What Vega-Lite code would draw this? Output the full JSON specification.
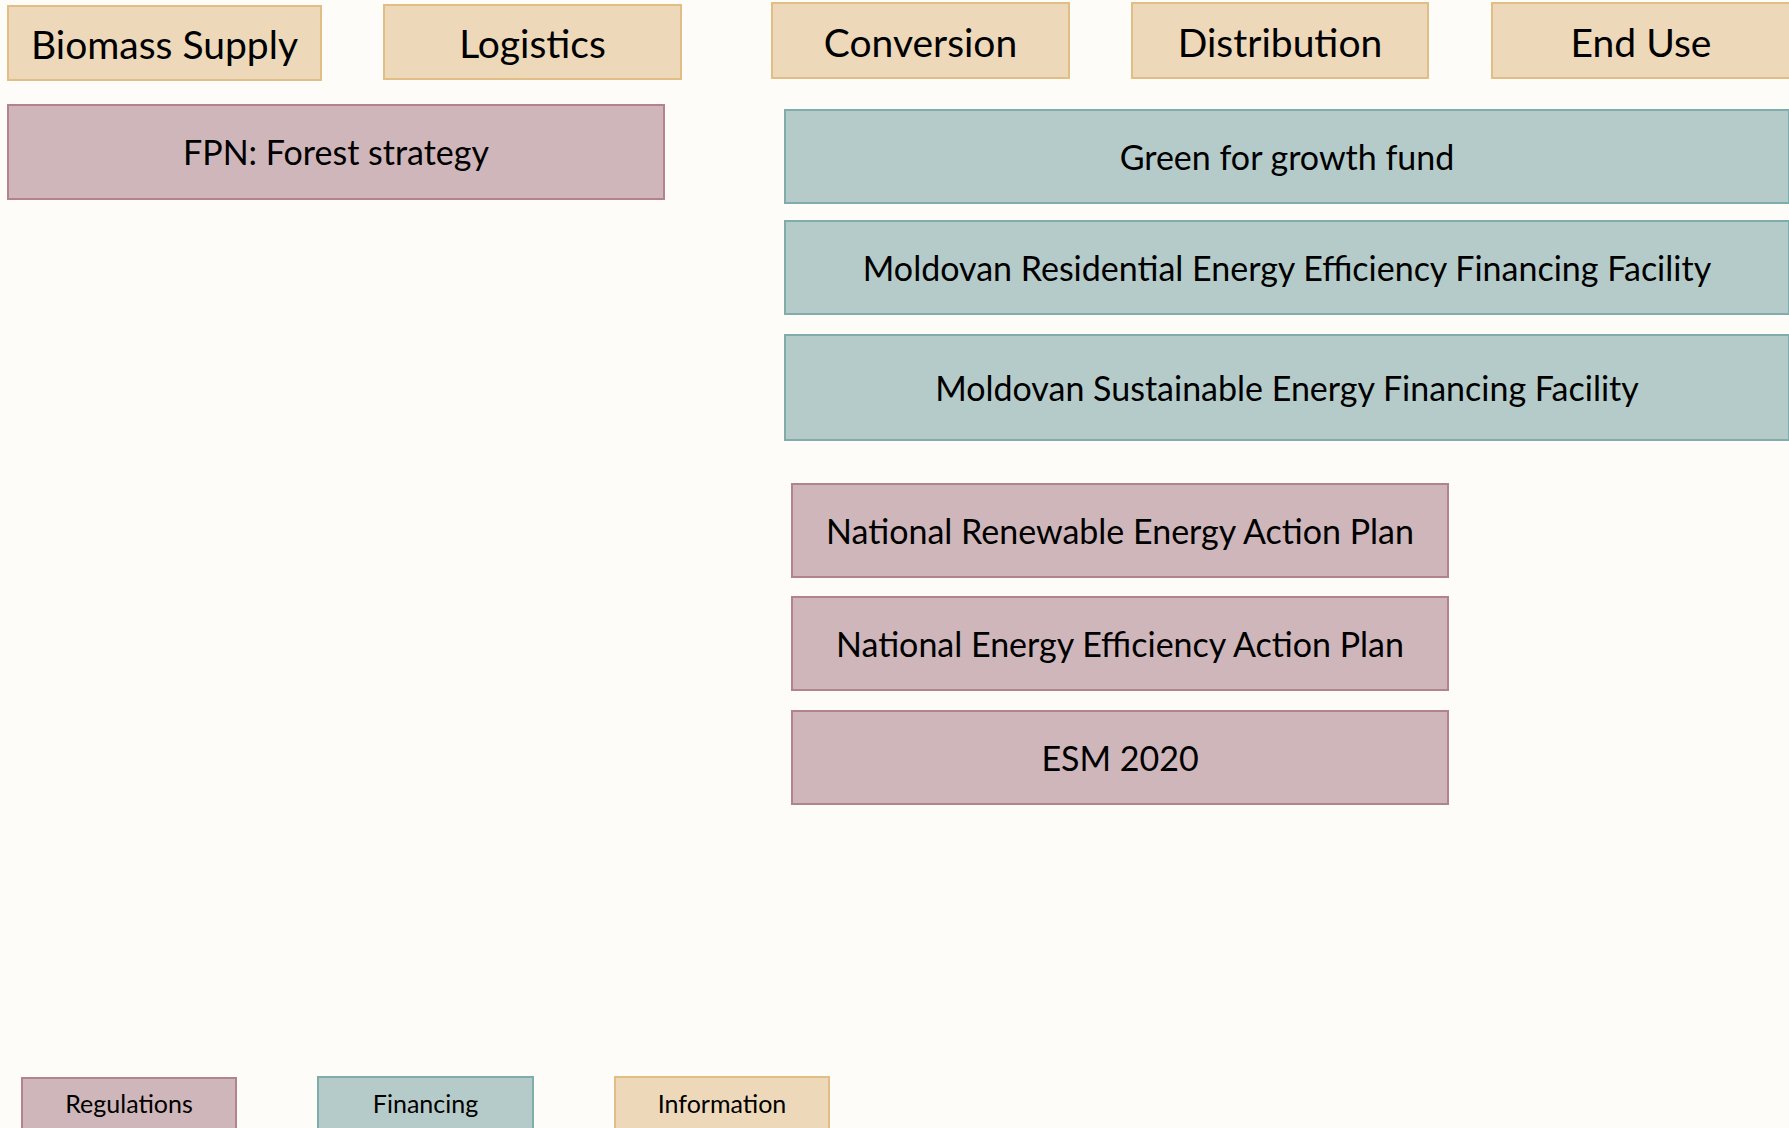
{
  "$schema": "https://vega.github.io/schema/vega-lite/v6.json",
  "width": 1789,
  "height": 1128,
  "autosize": {"type": "fit", "contains": "padding"},
  "padding": 0,
  "background": "#FDFCF8",
  "config": {"view": {"stroke": null}},
  "data": {
    "values": [
      {"label": "Biomass Supply", "kind": "header", "cat": "Information", "x1": 8, "x2": 321, "y1": 6, "y2": 80},
      {"label": "Logistics", "kind": "header", "cat": "Information", "x1": 384, "x2": 681, "y1": 5, "y2": 79},
      {"label": "Conversion", "kind": "header", "cat": "Information", "x1": 772, "x2": 1069, "y1": 3, "y2": 78},
      {"label": "Distribution", "kind": "header", "cat": "Information", "x1": 1132, "x2": 1428, "y1": 3, "y2": 78},
      {"label": "End Use", "kind": "header", "cat": "Information", "x1": 1492, "x2": 1790, "y1": 3, "y2": 78},
      {"label": "FPN: Forest strategy", "kind": "box", "cat": "Regulations", "x1": 8, "x2": 664, "y1": 105, "y2": 199},
      {"label": "Green for growth fund", "kind": "box", "cat": "Financing", "x1": 785, "x2": 1789, "y1": 110, "y2": 203},
      {"label": "Moldovan Residential Energy Efficiency Financing Facility", "kind": "box", "cat": "Financing", "x1": 785, "x2": 1789, "y1": 221, "y2": 314},
      {"label": "Moldovan Sustainable Energy Financing Facility", "kind": "box", "cat": "Financing", "x1": 785, "x2": 1789, "y1": 335, "y2": 440},
      {"label": "National Renewable Energy Action Plan", "kind": "box", "cat": "Regulations", "x1": 792, "x2": 1448, "y1": 484, "y2": 577},
      {"label": "National Energy Efficiency Action Plan", "kind": "box", "cat": "Regulations", "x1": 792, "x2": 1448, "y1": 597, "y2": 690},
      {"label": "ESM 2020", "kind": "box", "cat": "Regulations", "x1": 792, "x2": 1448, "y1": 711, "y2": 804},
      {"label": "Regulations", "kind": "legend", "cat": "Regulations", "x1": 22, "x2": 236, "y1": 1078, "y2": 1130},
      {"label": "Financing", "kind": "legend", "cat": "Financing", "x1": 318, "x2": 533, "y1": 1077, "y2": 1130},
      {"label": "Information", "kind": "legend", "cat": "Information", "x1": 615, "x2": 829, "y1": 1077, "y2": 1130}
    ]
  },
  "transform": [
    {"calculate": "(datum.x1 + datum.x2) / 2", "as": "cx"},
    {"calculate": "(datum.y1 + datum.y2) / 2", "as": "cy"}
  ],
  "layer": [
    {
      "mark": {"type": "rect", "strokeWidth": 2, "clip": true},
      "encoding": {
        "x": {"field": "x1", "type": "quantitative", "scale": {"domain": [0, 1789], "nice": false, "zero": false}, "axis": null},
        "x2": {"field": "x2"},
        "y": {"field": "y1", "type": "quantitative", "scale": {"domain": [0, 1128], "reverse": true, "nice": false, "zero": false}, "axis": null},
        "y2": {"field": "y2"},
        "fill": {"field": "cat", "type": "nominal", "scale": {"domain": ["Regulations", "Financing", "Information"], "range": ["#CFB6BA", "#B5CBC9", "#EDD8BA"]}, "legend": null},
        "stroke": {"field": "cat", "type": "nominal", "scale": {"domain": ["Regulations", "Financing", "Information"], "range": ["#B3838B", "#80ADA9", "#E0BE85"]}, "legend": null}
      }
    },
    {
      "transform": [{"filter": "datum.kind == 'header'"}],
      "mark": {"type": "text", "font": "Lato", "fontSize": 39, "color": "#000000", "baseline": "middle", "align": "center", "dy": 4},
      "encoding": {
        "x": {"field": "cx", "type": "quantitative"},
        "y": {"field": "cy", "type": "quantitative"},
        "text": {"field": "label"}
      }
    },
    {
      "transform": [{"filter": "datum.kind == 'box'"}],
      "mark": {"type": "text", "font": "Lato", "fontSize": 34, "color": "#000000", "baseline": "middle", "align": "center", "dy": 3},
      "encoding": {
        "x": {"field": "cx", "type": "quantitative"},
        "y": {"field": "cy", "type": "quantitative"},
        "text": {"field": "label"}
      }
    },
    {
      "transform": [{"filter": "datum.kind == 'legend'"}],
      "mark": {"type": "text", "font": "Lato", "fontSize": 25, "color": "#000000", "baseline": "middle", "align": "center", "dy": 1},
      "encoding": {
        "x": {"field": "cx", "type": "quantitative"},
        "y": {"field": "cy", "type": "quantitative"},
        "text": {"field": "label"}
      }
    }
  ]
}
